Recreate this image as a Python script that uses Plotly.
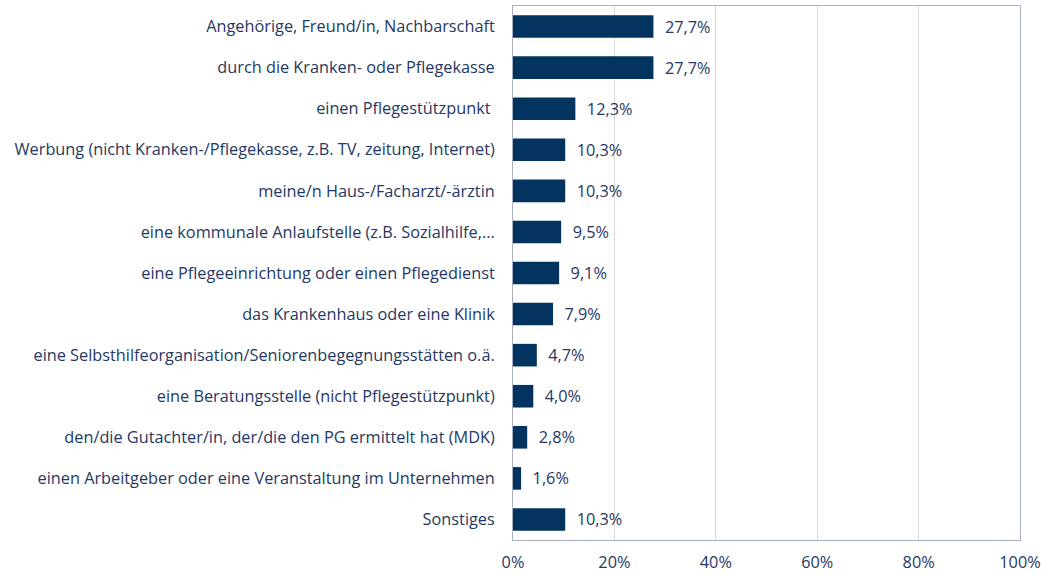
import plotly.graph_objects as go

categories = [
    "Angehörige, Freund/in, Nachbarschaft",
    "durch die Kranken- oder Pflegekasse",
    "einen Pflegestützpunkt ",
    "Werbung (nicht Kranken-/Pflegekasse, z.B. TV, zeitung, Internet)",
    "meine/n Haus-/Facharzt/-ärztin",
    "eine kommunale Anlaufstelle (z.B. Sozialhilfe,...",
    "eine Pflegeeinrichtung oder einen Pflegedienst",
    "das Krankenhaus oder eine Klinik",
    "eine Selbsthilfeorganisation/Seniorenbegegnungsstätten o.ä.",
    "eine Beratungsstelle (nicht Pflegestützpunkt)",
    "den/die Gutachter/in, der/die den PG ermittelt hat (MDK)",
    "einen Arbeitgeber oder eine Veranstaltung im Unternehmen",
    "Sonstiges",
]
values = [27.7, 27.7, 12.3, 10.3, 10.3, 9.5, 9.1, 7.9, 4.7, 4.0, 2.8, 1.6, 10.3]
tick_vals = [0, 20, 40, 60, 80, 100]
tick_text = ["0%", "20%", "40%", "60%", "80%", "100%"]

text_color = "#1f3864"
bar_color = "#03345f"
font_family = "'Open Sans', sans-serif"
font_size = 16.3

labels = ["  " + f"{v:.1f}".replace(".", ",") + "%" for v in values]

fig = go.Figure(
    go.Bar(
        x=values,
        y=categories,
        orientation="h",
        marker=dict(color=bar_color, line=dict(width=0)),
        width=0.55,
        text=labels,
        textposition="outside",
        cliponaxis=False,
        textfont=dict(color=text_color, size=font_size, family=font_family),
    )
)

fig.update_layout(
    width=1046,
    height=574,
    margin=dict(l=513, r=26, t=6, b=34),
    paper_bgcolor="white",
    plot_bgcolor="white",
    showlegend=False,
    font=dict(family=font_family, size=font_size, color=text_color),
)

fig.update_xaxes(
    range=[0, 100],
    tickvals=tick_vals,
    ticktext=tick_text,
    showgrid=True,
    gridcolor="#d9d9d9",
    gridwidth=1,
    zeroline=False,
    showline=True,
    linecolor="#aab0c4",
    linewidth=1,
    mirror=True,
    ticks="",
    automargin=False,
    ticklabelstandoff=7,
    tickfont=dict(size=font_size, color=text_color),
)

fig.update_yaxes(
    autorange="reversed",
    showgrid=False,
    showline=True,
    linecolor="#aab0c4",
    linewidth=1,
    mirror=True,
    ticks="",
    automargin=False,
    ticklabelstandoff=14,
    tickfont=dict(size=font_size, color=text_color),
)

fig.write_html("out.html")
